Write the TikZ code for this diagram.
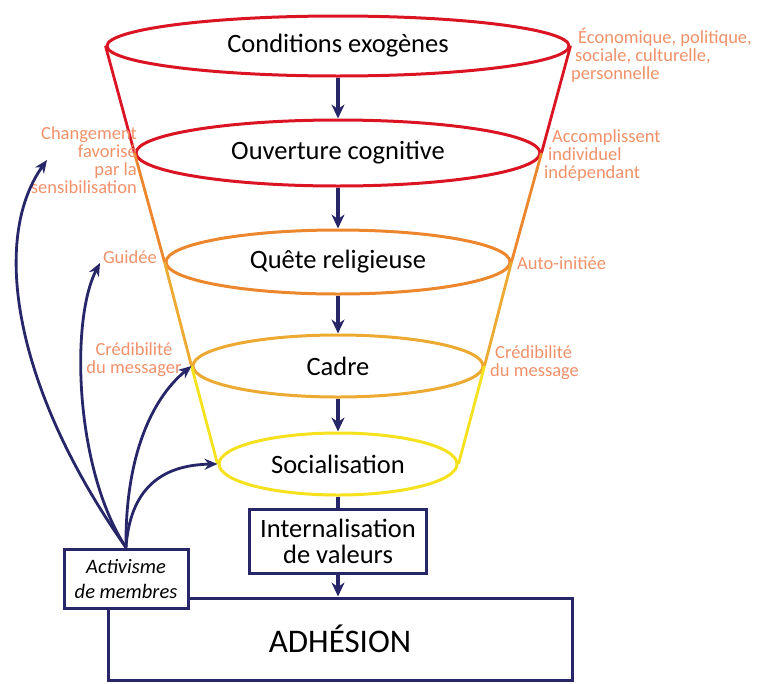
\documentclass[tikz,border=0pt]{standalone}
\usepackage{fontspec}
\setmainfont{Carlito}
\usepackage{tikz}
\usepackage{xcolor}
\usetikzlibrary{shapes.geometric, arrows.meta, positioning, calc}

\definecolor{navy}{RGB}{38,38,105}
\definecolor{salmon}{RGB}{240,145,105}
\definecolor{funred}{RGB}{218,20,35}
\definecolor{funorange}{RGB}{236,135,45}
\definecolor{funamber}{RGB}{236,170,50}
\definecolor{funyellow}{RGB}{245,225,30}

\tikzset{
  level/.style={ellipse, line width=3pt, inner sep=0pt, font=\fontsize{26.5}{28}\selectfont},
  box/.style={draw=navy, line width=3pt, fill=white, inner sep=0pt, align=center},
  side/.style={text=salmon, inner sep=0pt, font=\fontsize{18.5}{18}\selectfont},
  flow/.style={navy, line width=3.4pt, -{Stealth[length=14pt,width=13pt]}},
  pull/.style={navy, line width=2.8pt, -{Stealth[length=13pt,width=11pt]}}
}

\begin{document}
\begin{tikzpicture}[x=1pt, y=-1pt]
\useasboundingbox (0,0) rectangle (760,683);

% Funnel levels
\node[level, draw=funred, minimum width=462pt, minimum height=60pt] (cond) at (338,46) {Conditions exogènes};
\node[level, draw=funred, minimum width=404pt, minimum height=66pt] (ouv) at (338,153) {Ouverture cognitive};
\node[level, draw=funorange, minimum width=344pt, minimum height=64pt] (quete) at (338,262) {Quête religieuse};
\node[level, draw=funamber, minimum width=290pt, minimum height=62pt] (cadre) at (338,366) {Cadre};
\node[level, draw=funyellow, minimum width=238pt, minimum height=62pt] (soc) at (338,464) {Socialisation};

% Funnel sides
\foreach \a/\b/\c in {cond/ouv/funred, ouv/quete/funorange, quete/cadre/funamber, cadre/soc/funyellow} {
  \draw[line width=2.8pt, \c] (\a.west) -- (\b.west);
  \draw[line width=2.8pt, \c] (\a.east) -- (\b.east);
  \draw[flow] (\a) -- (\b);
}

% Boxes
\node[box, minimum width=464pt, minimum height=82pt, font=\fontsize{33}{36}\selectfont] (adh) at (340,639) {ADHÉSION};
\node[box, minimum width=177pt, minimum height=64pt, font=\fontsize{26.5}{26}\selectfont] (intern) at (338,541) {Internalisation\\de valeurs};
\node[box, minimum width=124pt, minimum height=59pt, font=\fontsize{20.5}{25}\selectfont\itshape] (act) at (126,578.5) {Activisme\\de membres};

\draw[navy, line width=3.4pt] (soc) -- (intern);
\draw[flow] (intern.south) -- (intern.south |- adh.north);

% Side labels
\node[side, align=right, anchor=east] (lblchg) at (137,160) {Changement\hspace{14pt}\\favorisé\hspace{20pt}\\par la\hspace{7pt}\\sensibilisation};
\node[side, anchor=east] (lblgui) at (157,257) {Guidée};
\node[side, align=center] (lblcred) at (134,360) {Crédibilité\\du messager};
\node[side, align=left, anchor=west] (lbleco) at (571,55) {\hspace{7pt}Économique, politique,\\\hspace{4pt}sociale, culturelle,\\personnelle};
\node[side, align=left, anchor=west] (lblacc) at (544,156) {\hspace{8pt}Accomplissent\\\hspace{4pt}individuel\\indépendant};
\node[side, anchor=west] (lblauto) at (517,263) {Auto-initiée};
\node[side, align=left, anchor=west] (lblmsg) at (490,363) {\hspace{5pt}Crédibilité\\du message};

% Activism
\coordinate (tipchg) at (47,160);
\coordinate (tipgui) at (100,263);
\draw[pull] (act.north) .. controls (15,390) and (-10,240) .. (tipchg);
\draw[pull] (act.north) .. controls (75,470) and (70,320) .. (tipgui);
\draw[pull] (act.north) .. controls (125,460) and (150,400) .. (cadre.west);
\draw[pull] (act.north) .. controls (130,490) and (160,465) .. (soc.west);
\end{tikzpicture}
\end{document}
